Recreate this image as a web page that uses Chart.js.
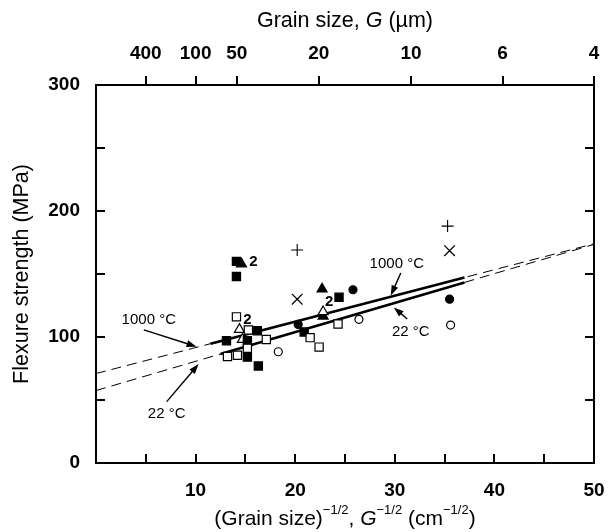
<!DOCTYPE html>
<html>
<head>
<meta charset="utf-8">
<script src="https://cdn.jsdelivr.net/npm/chart.js@4.4.1/dist/chart.umd.min.js"></script>
<style>
  html, body { margin: 0; padding: 0; background: #fff; }
  #wrap { width: 614px; height: 532px; }
</style>
</head>
<body>
<div id="wrap"><canvas id="chart" width="614" height="532"></canvas></div>
<script>
// ── Data ─────────────────────────────────────────────────────────────────────

// top axis: grain size G in µm (plotted at G^-1/2 in cm^-1/2)
const grainTicks = [400, 100, 50, 20, 10, 6, 4];

// markers: x = G^-1/2 (cm^-1/2), y = flexure strength (MPa)
const filledSquares = [
  { x: 14.1, y: 160 }, { x: 14.1, y: 148 }, { x: 13.1, y: 97 }, { x: 15.2, y: 97 },
  { x: 16.2, y: 105 }, { x: 15.2, y: 84 }, { x: 16.3, y: 77 }, { x: 20.9, y: 104 },
  { x: 24.4, y: 131.5 },
];
const openSquares = [
  { x: 14.1, y: 116 }, { x: 15.3, y: 105.5 }, { x: 17.1, y: 98 }, { x: 15.2, y: 91 },
  { x: 13.2, y: 84.5 }, { x: 14.2, y: 85.5 }, { x: 21.5, y: 99.5 }, { x: 22.4, y: 92 },
  { x: 24.3, y: 110.3 },
];
const filledTriangles = [ { x: 14.6, y: 158 }, { x: 22.7, y: 138 }, { x: 22.8, y: 116.5 } ];
const openTriangles   = [ { x: 14.4, y: 106 }, { x: 14.7, y: 98 }, { x: 22.8, y: 120 } ];
const filledCircles   = [ { x: 20.3, y: 110 }, { x: 25.8, y: 137.5 }, { x: 35.5, y: 130 } ];
const openCircles     = [ { x: 18.3, y: 88.3 }, { x: 26.4, y: 114 }, { x: 35.6, y: 109.5 } ];
const plusMarks       = [ { x: 20.2, y: 169 }, { x: 35.3, y: 188 } ];
const crossMarks      = [ { x: 20.2, y: 130 }, { x: 35.5, y: 168.5 } ];

// fitted lines (Hall-Petch)
const fit1000Dashed = [ { x: 0, y: 71 },   { x: 50, y: 174 } ];
const fit1000Solid  = [ { x: 11.5, y: 94.7 }, { x: 37, y: 147.2 } ];
const fit22Dashed   = [ { x: 0, y: 57.5 }, { x: 50, y: 173.5 } ];
const fit22Solid    = [ { x: 12.5, y: 86.5 }, { x: 37, y: 143.3 } ];

// "2" = two coincident points
const pairLabels = [ { x: 15.8, y: 159.8 }, { x: 15.2, y: 113.5 }, { x: 23.4, y: 128 } ];

// temperature callouts (text centre, arrow tail, arrow head), in data units
const callouts = [
  { text: '1000 °C', at: [5.3, 113.5],  from: [4.8, 105.6],  to: [10.1, 92.3] },
  { text: '22 °C',   at: [7.1, 39],     from: [7.1, 48.7],   to: [10.3, 78.5] },
  { text: '1000 °C', at: [30.2, 158],   from: [30.6, 150.8], to: [29.6, 133] },
  { text: '22 °C',   at: [31.6, 104],   from: [31.25, 114.3], to: [29.9, 123.5] },
];

// ── Helpers ──────────────────────────────────────────────────────────────────

const FONT = '"Liberation Sans", Arial, Helvetica, sans-serif';

function markers(data, style, filled, radius, extra) {
  return Object.assign({
    type: 'scatter',
    data,
    pointStyle: style,
    pointRadius: radius,
    pointBackgroundColor: filled ? '#000' : '#fff',
    pointBorderColor: '#000',
    pointBorderWidth: 1.2,
    order: 0,
  }, extra || {});
}

function fitLine(data, dashed) {
  return {
    type: 'line',
    data,
    borderColor: '#000',
    borderWidth: dashed ? 1 : 2.6,
    borderDash: dashed ? [10, 6] : [],
    pointRadius: 0,
    fill: false,
    order: dashed ? 20 : 10,
  };
}

function drawArrow(ctx, x1, y1, x2, y2) {
  const ang = Math.atan2(y2 - y1, x2 - x1);
  const head = 10, half = 3.5;
  ctx.beginPath();
  ctx.moveTo(x1, y1);
  ctx.lineTo(x2 - Math.cos(ang) * head * 0.8, y2 - Math.sin(ang) * head * 0.8);
  ctx.lineWidth = 1.4;
  ctx.stroke();
  ctx.beginPath();
  ctx.moveTo(x2, y2);
  ctx.lineTo(x2 - Math.cos(ang) * head + Math.sin(ang) * half,
             y2 - Math.sin(ang) * head - Math.cos(ang) * half);
  ctx.lineTo(x2 - Math.cos(ang) * head - Math.sin(ang) * half,
             y2 - Math.sin(ang) * head + Math.cos(ang) * half);
  ctx.closePath();
  ctx.fill();
}

// draws rich text pieces centred at cx (sup = superscript, it = italic)
function drawRich(ctx, pieces, cx, cy, size) {
  const supSize = Math.round(size * 0.62);
  const fontOf = p => `${p.it ? 'italic ' : ''}${p.sup ? supSize : size}px ${FONT}`;
  let total = 0;
  pieces.forEach(p => { ctx.font = fontOf(p); total += ctx.measureText(p.t).width; });
  let x = cx - total / 2;
  ctx.textAlign = 'left';
  ctx.textBaseline = 'middle';
  pieces.forEach(p => {
    ctx.font = fontOf(p);
    ctx.fillText(p.t, x, p.sup ? cy - size * 0.42 : cy);
    x += ctx.measureText(p.t).width;
  });
}

// ── Overlay plugin: titles with super/italics, callouts, "2" labels ──────────

const overlay = {
  id: 'overlay',
  afterDatasetsDraw(chart) {
    const { ctx, chartArea: a, scales: { x, y } } = chart;
    ctx.save();
    ctx.fillStyle = '#000';
    ctx.strokeStyle = '#000';

    ctx.font = `bold 15px ${FONT}`;
    ctx.textAlign = 'center';
    ctx.textBaseline = 'middle';
    pairLabels.forEach(p => ctx.fillText('2', x.getPixelForValue(p.x), y.getPixelForValue(p.y)));

    callouts.forEach(c => {
      ctx.font = `15px ${FONT}`;
      ctx.textAlign = 'center';
      ctx.textBaseline = 'middle';
      ctx.fillText(c.text, x.getPixelForValue(c.at[0]), y.getPixelForValue(c.at[1]));
      drawArrow(ctx,
        x.getPixelForValue(c.from[0]), y.getPixelForValue(c.from[1]),
        x.getPixelForValue(c.to[0]), y.getPixelForValue(c.to[1]));
    });

    const cx = (a.left + a.right) / 2;
    drawRich(ctx, [
      { t: 'Grain size, ' }, { t: 'G', it: true }, { t: ' (µm)' },
    ], cx, 21, 21.5);
    drawRich(ctx, [
      { t: '(Grain size)' }, { t: '−1/2', sup: true }, { t: ', ' },
      { t: 'G', it: true }, { t: '−1/2', sup: true }, { t: ' (cm' },
      { t: '−1/2', sup: true }, { t: ')' },
    ], cx, 519, 21);
    ctx.restore();
  },
};

// ── Chart ────────────────────────────────────────────────────────────────────

const tickFont = { family: FONT, size: 19, weight: 'bold' };
const inwardGrid = { display: true, drawOnChartArea: false, drawTicks: true,
                     tickLength: -9, color: '#000', lineWidth: 2 };
const frame = { display: true, color: '#000', width: 2 };
const noSidePad = s => { s.paddingLeft = 0; s.paddingRight = 0; };

new Chart(document.getElementById('chart').getContext('2d'), {
  data: {
    datasets: [
      markers(openSquares, 'rect', false, 5.8),
      markers(filledSquares, 'rect', true, 5.8),
      markers(openTriangles, 'triangle', false, 5.8),
      markers(filledTriangles, 'triangle', true, 5.8),
      markers(openCircles, 'circle', false, 4),
      markers(filledCircles, 'circle', true, 4),
      markers(plusMarks, 'cross', false, 6, { pointBorderWidth: 1.1 }),
      markers(crossMarks, 'crossRot', false, 7.5, { pointBorderWidth: 1.3 }),
      fitLine(fit1000Solid, false),
      fitLine(fit22Solid, false),
      fitLine(fit1000Dashed, true),
      fitLine(fit22Dashed, true),
    ],
  },
  options: {
    responsive: false,
    animation: false,
    devicePixelRatio: 1,
    layout: { padding: { left: 0, right: 20, top: 0, bottom: 0 } },
    plugins: { legend: { display: false }, tooltip: { enabled: false } },
    scales: {
      x: {
        type: 'linear', position: 'bottom', min: 0, max: 50,
        afterFit: s => { s.height = 69; noSidePad(s); },
        grid: inwardGrid, border: frame,
        ticks: {
          stepSize: 5, padding: 25, color: '#000', font: tickFont, maxRotation: 0,
          autoSkip: false,
          callback: v => (v % 10 === 0 && v !== 0 ? v : ''),
        },
      },
      xTop: {
        type: 'linear', position: 'top', min: 0, max: 50,
        afterFit: s => { s.height = 85; noSidePad(s); },
        afterBuildTicks: s => { s.ticks = grainTicks.map(g => ({ value: 100 / Math.sqrt(g) })); },
        grid: { display: true, drawOnChartArea: false, drawTicks: true,
                tickLength: 9, color: '#000', lineWidth: 2 },
        border: frame,
        ticks: {
          padding: 11, color: '#000', font: tickFont, maxRotation: 0, autoSkip: false,
          callback: (v, i) => grainTicks[i],
        },
      },
      y: {
        type: 'linear', position: 'left', min: 0, max: 300,
        afterFit: s => { s.width = 96; },
        grid: inwardGrid, border: frame,
        ticks: {
          stepSize: 50, padding: 25, color: '#000', font: tickFont,
          callback: v => (v % 100 === 0 ? v : ''),
        },
        title: {
          display: true, text: 'Flexure strength (MPa)', color: '#000',
          font: { family: FONT, size: 21.5 }, padding: { top: 9, bottom: 0 },
        },
      },
      yRight: {
        type: 'linear', position: 'right', min: 0, max: 300,
        afterFit: s => { s.width = 0; },
        grid: inwardGrid, border: frame,
        ticks: { stepSize: 50, display: false },
      },
    },
  },
  plugins: [overlay],
});
</script>
</body>
</html>
